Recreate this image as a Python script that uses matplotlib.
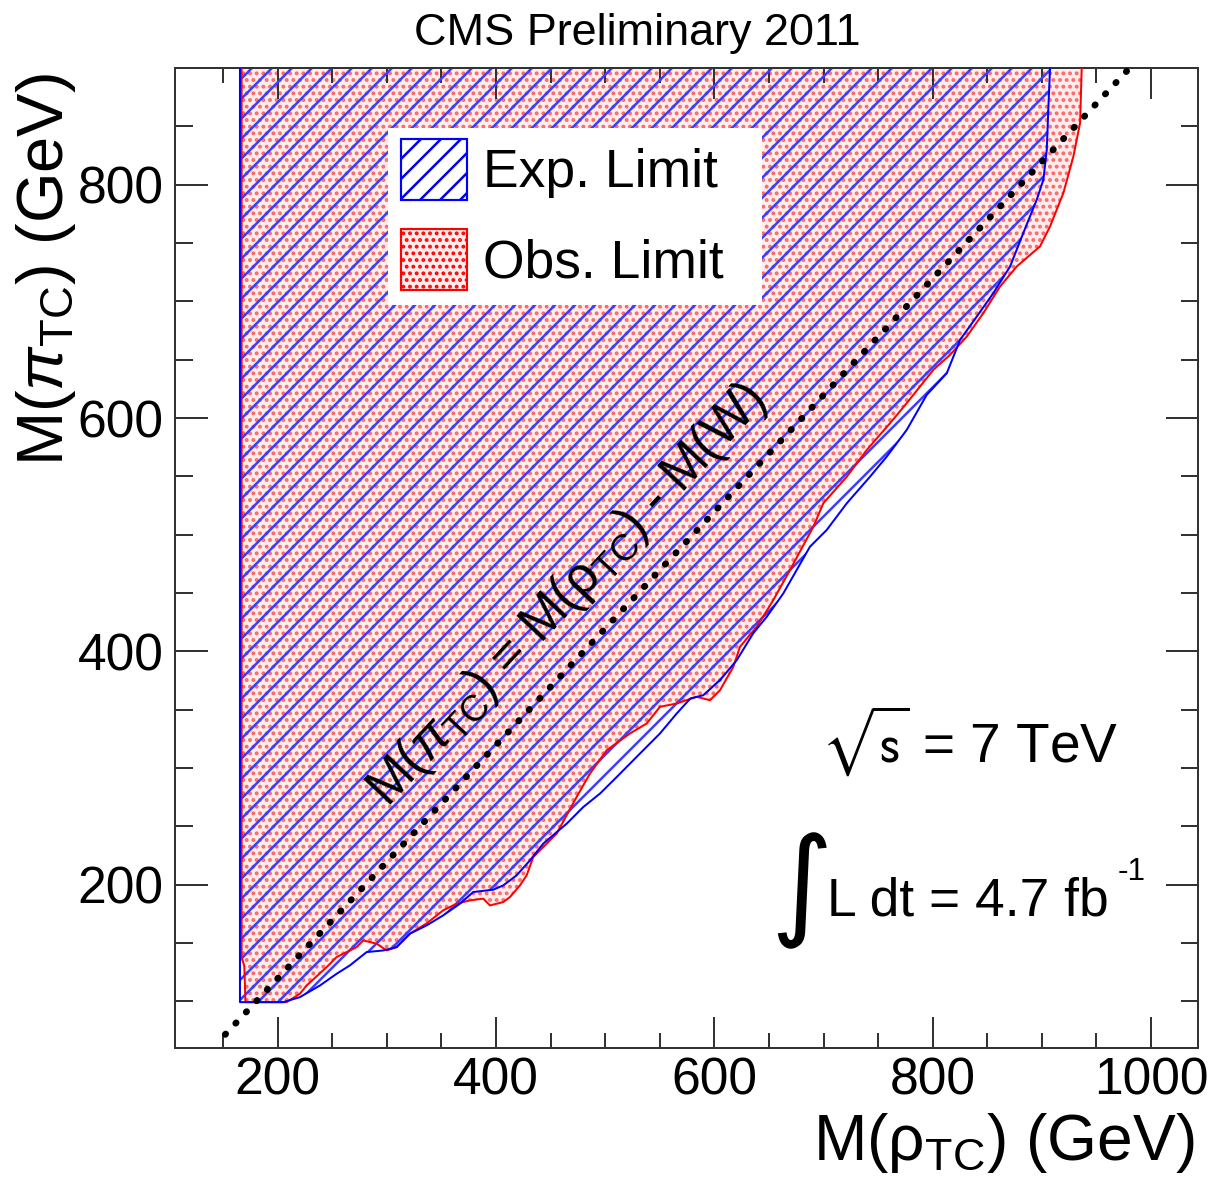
import matplotlib
matplotlib.use('Agg')
import matplotlib.pyplot as plt
from matplotlib.patches import Patch, Rectangle
from matplotlib.ticker import MultipleLocator

plt.rcParams['font.family'] = ['Liberation Sans', 'DejaVu Sans']
plt.rcParams['mathtext.fontset'] = 'custom'
plt.rcParams['mathtext.rm'] = 'Liberation Sans'
plt.rcParams['mathtext.it'] = 'Liberation Sans:italic'
plt.rcParams['mathtext.bf'] = 'Liberation Sans:bold'
plt.rcParams['hatch.linewidth'] = 1.5

# expected limit contour (GeV): left edge, then the lower edge up to the top
exp_rho = [165.5, 165.5, 205.1, 220.4, 238.8, 254.0, 266.2, 281.5, 296.7, 309.0,
           321.2, 336.5, 351.7, 367.0, 379.2, 397.5, 406.7, 418.9, 431.1, 443.3,
           464.8, 480.0, 495.3, 510.6, 531.9, 550.2, 565.5, 578.1, 589.9, 605.2,
           620.5, 635.7, 648.0, 663.2, 687.6, 702.9, 721.3, 742.6, 757.9, 776.2,
           794.5, 812.9, 825.1, 840.4, 855.6, 870.9, 883.0, 895.3, 901.4, 904.5,
           906.0, 907.5, 908.0]
exp_pi = [910.0, 99.3, 99.3, 103.6, 113.6, 123.6, 130.8, 142.2, 143.6, 146.5,
          158.0, 165.1, 173.7, 183.7, 193.7, 195.7, 199.4, 208.0, 220.8, 235.2,
          252.3, 266.6, 278.1, 292.3, 312.4, 329.6, 346.7, 359.6, 362.4, 375.3,
          392.4, 415.6, 429.6, 449.7, 489.7, 504.0, 526.9, 549.7, 566.9, 589.8,
          619.8, 638.4, 667.0, 687.0, 707.1, 729.9, 758.6, 787.1, 804.3, 830.0,
          867.2, 900.1, 910.0]

# observed limit contour (GeV)
obs_rho = [167.0, 167.0, 169.5, 170.5, 208.2, 220.4, 226.6, 244.9, 254.0, 272.4,
           278.4, 290.7, 299.9, 309.0, 321.2, 336.5, 351.7, 364.0, 376.2, 388.3,
           394.5, 406.7, 412.8, 422.0, 428.1, 434.2, 455.6, 473.9, 486.1, 501.4,
           522.7, 538.0, 550.2, 565.5, 583.8, 596.0, 605.2, 617.4, 623.5, 638.8,
           654.0, 669.3, 690.7, 699.8, 721.3, 739.6, 760.9, 776.2, 800.6, 815.9,
           831.2, 846.4, 861.7, 877.0, 898.3, 907.5, 919.7, 928.9, 935.0, 936.5,
           936.5]
obs_pi = [910.0, 138.0, 130.0, 99.3, 99.3, 106.5, 113.6, 129.3, 137.9, 146.5,
          152.2, 149.4, 143.6, 146.5, 158.0, 166.8, 178.0, 183.7, 186.5, 188.0,
          182.2, 185.1, 189.4, 199.4, 208.0, 223.7, 243.8, 275.2, 295.2, 315.2,
          329.6, 338.1, 352.4, 355.3, 361.0, 358.1, 366.7, 386.7, 403.9, 421.0,
          443.9, 469.7, 506.8, 526.9, 549.7, 572.6, 595.5, 612.7, 641.3, 654.1,
          669.8, 689.9, 712.7, 729.9, 747.1, 764.2, 792.9, 824.3, 852.9, 900.1,
          910.0]

# kinematic line M(pi) = M(rho) - M(W)
m_w = 80.4
diag_rho = [152.0, 985.0]
diag_pi = [r - m_w for r in diag_rho]

x_ticks = [200, 400, 600, 800, 1000]
y_ticks = [200, 400, 600, 800]

fig = plt.figure(figsize=(1209 / 120, 1198 / 120), dpi=120)
ax = fig.add_axes([175 / 1209, 1 - 1048 / 1198, 1023 / 1209, 980 / 1198])

obs_face = '#ffecec'
obs_dots = '#ff6464'
exp_lines = '#3d3dff'
ax.fill(obs_rho, obs_pi, facecolor=obs_face, edgecolor=obs_dots, hatch='...',
        linewidth=0, zorder=1)
ax.fill(exp_rho, exp_pi, facecolor='none', edgecolor=exp_lines, hatch='//',
        linewidth=0, zorder=2)
ax.plot(obs_rho, obs_pi, color='red', lw=1.2, zorder=3)
ax.plot(exp_rho, exp_pi, color='blue', lw=1.2, zorder=3)
ax.plot(diag_rho, diag_pi, color='black', lw=4, linestyle=(0, (0.1, 2.2)),
        dash_capstyle='round', zorder=4, clip_on=False)

ax.set_xlim(106, 1043)
ax.set_ylim(60, 900)
ax.set_xticks(x_ticks)
ax.set_yticks(y_ticks)
ax.xaxis.set_minor_locator(MultipleLocator(50))
ax.yaxis.set_minor_locator(MultipleLocator(50))
ax.tick_params(which='both', direction='in', top=True, right=True,
               color='#333333', width=1.2, labelsize=31)
ax.tick_params(axis='x', which='major', length=18.5, pad=5)
ax.tick_params(axis='x', which='minor', length=9)
ax.tick_params(axis='y', which='major', length=19.5, pad=7)
ax.tick_params(axis='y', which='minor', length=10.5)
for s in ax.spines.values():
    s.set_linewidth(1.2)
    s.set_color('#333333')

# legend box
ax.add_patch(Rectangle((0.2082, 0.7582), 0.3656, 0.1806, transform=ax.transAxes,
                       facecolor='white', edgecolor='none', zorder=5))
handles = [Patch(facecolor='white', edgecolor='blue', hatch='//', linewidth=1.3,
                 label='Exp. Limit'),
           Patch(facecolor=obs_face, edgecolor='red', hatch='...', linewidth=1.3,
                 label='Obs. Limit')]
leg = ax.legend(handles=handles, loc='upper left', bbox_to_anchor=(0.2209, 0.9275),
                fontsize=32, frameon=False, handlelength=1.23, handleheight=1.38,
                borderpad=0, labelspacing=0.55, handletextpad=0.3, borderaxespad=0)
leg.set_zorder(6)

ax.text(466, 448, r'M($\pi_{\rm TC}$) = M($\mathrm{\rho}_{\rm TC}$) - M(W)',
        rotation=45, transform_rotates_text=True, rotation_mode='anchor',
        ha='center', va='center', fontsize=31.5, zorder=5)

ax.text(0.777, 0.292, r'$\sqrt{\mathrm{s}}$ = 7 TeV', transform=ax.transAxes,
        ha='center', va='baseline', fontsize=33, math_fontfamily='stixsans')
ax.text(0.6125, 0.160, '\u222b', transform=ax.transAxes, ha='center', va='center',
        fontsize=72, family=['DejaVu Sans'])
ax.text(0.637, 0.1357, 'L dt = 4.7 fb', transform=ax.transAxes,
        ha='left', va='baseline', fontsize=32)
ax.text(0.9218, 0.1714, '-1', transform=ax.transAxes,
        ha='left', va='baseline', fontsize=19)

fig.text(637 / 1209, 1 - 45 / 1198, 'CMS Preliminary 2011', ha='center',
         va='baseline', fontsize=27)
fig.text(1195 / 1209, 1 - 1160 / 1198, r'M($\mathrm{\rho}_{\rm TC}$) (GeV)',
         ha='right', va='baseline', fontsize=38.5)
fig.text(63 / 1209, 1 - 73 / 1198, r'M($\pi_{\rm TC}$) (GeV)', rotation=90,
         rotation_mode='anchor', ha='right', va='baseline', fontsize=39)

fig.savefig('out.png', dpi=120)
